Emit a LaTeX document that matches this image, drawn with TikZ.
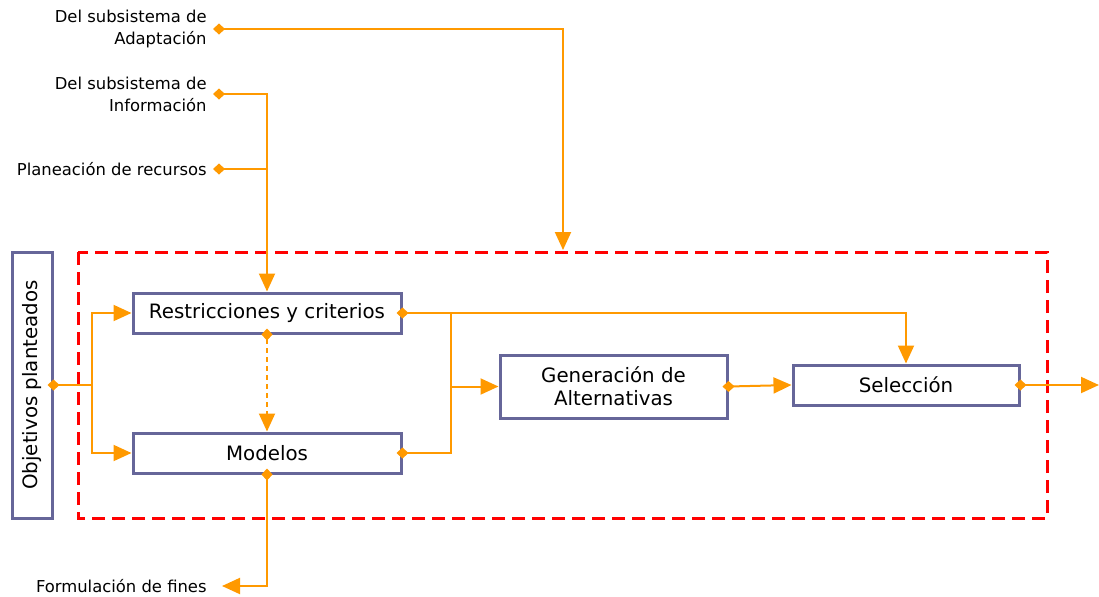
\documentclass[tikz,border=0pt]{standalone}
\usepackage{fontspec}
\setmainfont{DejaVu Sans}
\usetikzlibrary{arrows.meta}
\definecolor{flow}{RGB}{255,153,0}
\definecolor{boxline}{RGB}{102,102,153}
\definecolor{zone}{RGB}{255,0,0}

\begin{document}
\begin{tikzpicture}[x=0.5pt,y=-0.5pt,
    block/.style={draw=boxline, line width=1.5pt, fill=white, text=black, align=center,
      inner sep=0pt, font=\fontsize{9.9}{11.5}\selectfont},
    source/.style={text=black, align=right, anchor=east, inner xsep=6pt, inner ysep=0pt,
      font=\fontsize{8.2}{11}\selectfont},
    flowline/.style={draw=flow, line width=1pt},
    diatri/.style={{Diamond[length=6pt,width=5.5pt]}-{Triangle[length=9pt,width=8pt]}, shorten <=-3pt},
    diaonly/.style={{Diamond[length=6pt,width=5.5pt]}-, shorten <=-3pt},
    trionly/.style={-{Triangle[length=9pt,width=8pt]}}]
  \useasboundingbox (0,0) rectangle (1099,596);
  % Draw dashed zone
  \draw[zone, line width=1.5pt, dash pattern=on 6.5pt off 3.5pt] (78,252) rectangle (1047,518);
  \coordinate (zonetop) at (563,250);
  % Draw sources
  \node[source] (adapt) at (219,29) {Del subsistema de\\Adaptación};
  \node[source] (info) at (219,94) {Del subsistema de\\Información};
  \node[source] (plan) at (219,169) {Planeación de recursos};
  \node[source, inner xsep=7.5pt] (fines) at (222,586) {Formulación de fines};
  % Draw blocks
  \node[block, rotate=90, minimum width=133pt, minimum height=20pt] (obj) at (32,385) {Objetivos planteados};
  \node[block, minimum width=134pt, minimum height=20pt] (restr) at (267,313) {Restricciones y criterios};
  \node[block, minimum width=134pt, minimum height=20pt] (model) at (267,453) {Modelos};
  \node[block, minimum width=113.5pt, minimum height=31.5pt] (gen) at (613.5,386.5) {Generación de\\Alternativas};
  \node[block, minimum width=113pt, minimum height=20pt] (sel) at (906,385) {Selección};
  \coordinate (objfork) at (92,385);
  \coordinate (genfork) at (451,386.5);
  \coordinate (outlet) at (1099,385);
  % Draw inputs from above
  \draw[flowline, diatri] (adapt.east) -| (zonetop);
  \draw[flowline, diatri] (info.east) -| (restr.north);
  \draw[flowline, diaonly] (plan.east) -- (plan.east -| restr.north);
  % Draw objectives split
  \draw[flowline, diaonly] (obj.south) -- (objfork);
  \draw[flowline, trionly] (objfork) |- (restr.west);
  \draw[flowline, trionly] (objfork) |- (model.west);
  % Draw flow to alternatives
  \draw[flowline, dash pattern=on 2.5pt off 2pt, diatri] (restr.south) -- (model.north);
  \draw[flowline, diatri] (restr.east) -| (sel.north);
  \draw[flowline] (restr.east -| genfork) -- (genfork);
  \draw[flowline, diaonly] (model.east) -| (genfork);
  \draw[flowline, trionly] (genfork) -- (gen.west);
  \draw[flowline, diatri] (gen.east) -- (sel.west);
  \draw[flowline, diatri] (sel.east) -- (outlet);
  \draw[flowline, diatri] (model.south) |- (fines.east);
\end{tikzpicture}
\end{document}
